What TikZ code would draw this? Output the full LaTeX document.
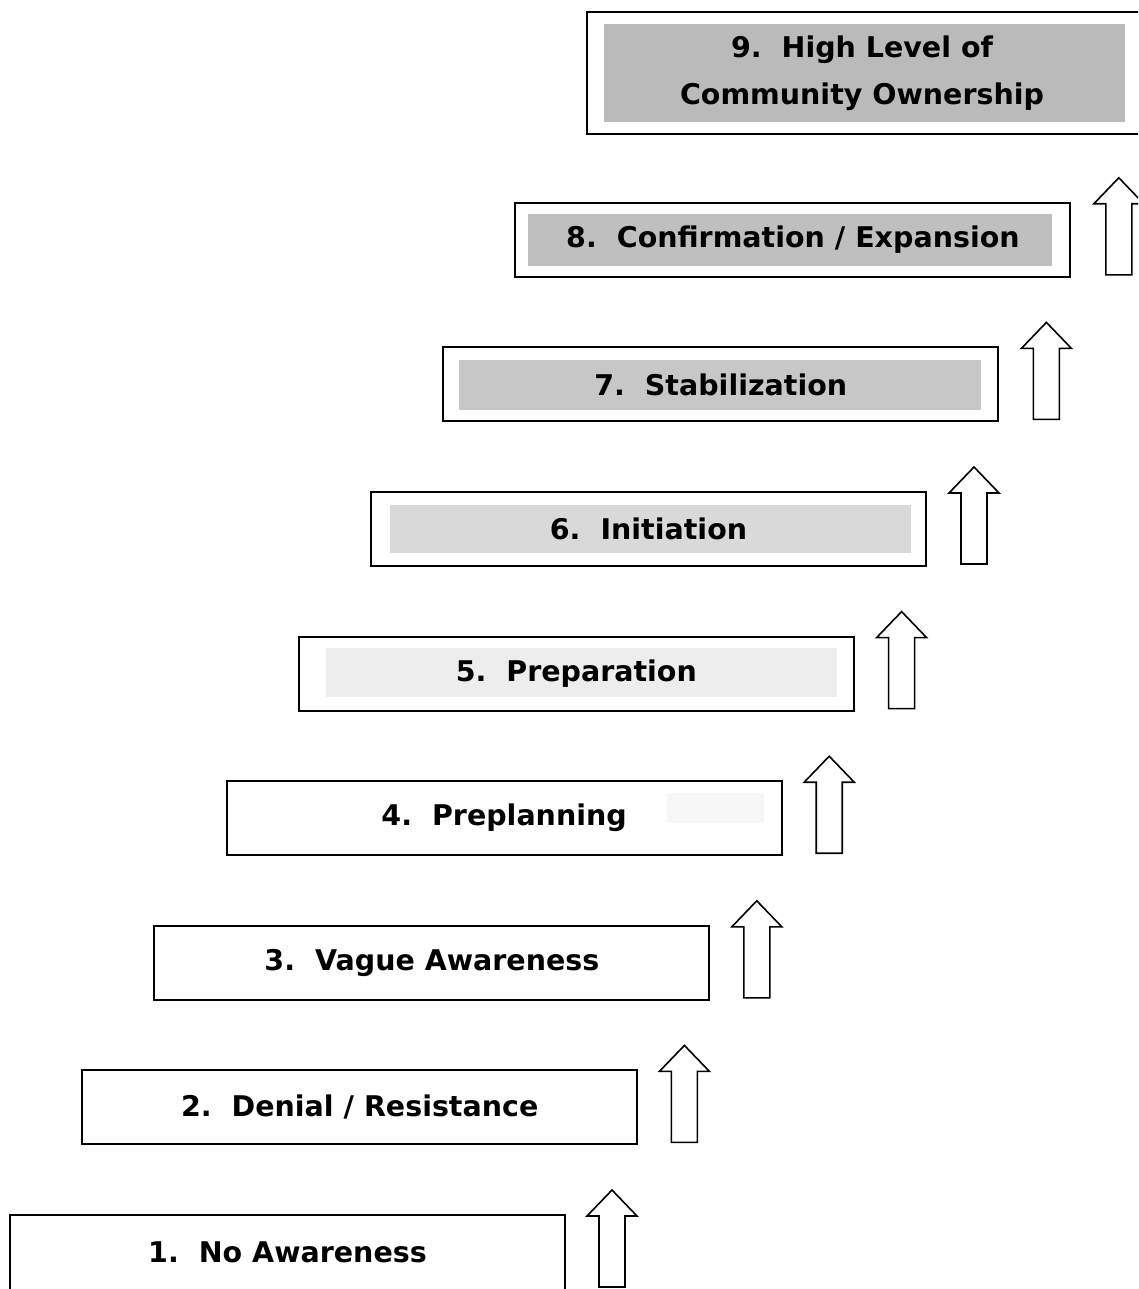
\documentclass[tikz,border=0pt]{standalone}
\usepackage{fontspec}
\setmainfont{DejaVu Sans}
\begin{document}
\begin{tikzpicture}[x=1pt,y=-1pt,
  stagetext/.style={inner sep=0pt, font=\fontsize{28.5}{47}\selectfont\bfseries, align=center},
  stagebox/.style={draw=black, line width=2pt, stagetext},
  uparrow/.style={draw=black, line width=1.6pt, fill=white, line join=miter}]
\useasboundingbox (0,0) rectangle (1138,1289);
\clip (0,0) rectangle (1138,1289);
\newcommand\gap{\hspace{20pt}}
% shading inside the upper boxes
\fill[black!27] (604,24) rectangle (1125,122);
\fill[black!25] (528,214) rectangle (1052,266);
\fill[black!22] (459,360) rectangle (981,410);
\fill[black!15] (390,505) rectangle (911,553);
\fill[black!7] (326,648) rectangle (837,697);
\fill[black!3] (667,793) rectangle (764,823);
% stage boxes
\node[stagebox, minimum width=555pt, minimum height=84pt,
      label={[stagetext, yshift=5pt]center:1.\gap No Awareness}] (s1) at (287.5,1257) {};
\foreach \k/\t in {2/{2.\gap Denial / Resistance},3/{3.\gap Vague Awareness},4/{4.\gap Preplanning},5/{5.\gap Preparation},6/{6.\gap Initiation},7/{7.\gap Stabilization},8/{8.\gap Confirmation / Expansion}}{
  \node[stagebox, minimum width=555pt, minimum height=74pt] (s\k) at ({287.5+72.2*(\k-1)},{1252-144.6*(\k-1)}) {\t};
}
\node[stagebox, minimum width=590pt, minimum height=122pt,
      label={[stagetext, xshift=-20pt]center:{9.\gap High Level of\\Community Ownership}}] (s9) at (882,73) {};
% block arrows
\foreach \k in {1,...,8}{
  \pgfmathsetmacro{\cx}{612+72.4*(\k-1)}
  \pgfmathsetmacro{\ty}{1190-144.6*(\k-1)}
  \draw[uparrow] (\cx,\ty) -- ++(25,26) -- ++(-12,0) -- ++(0,71) -- ++(-26,0) -- ++(0,-71) -- ++(-12,0) -- cycle;
}
\end{tikzpicture}
\end{document}
